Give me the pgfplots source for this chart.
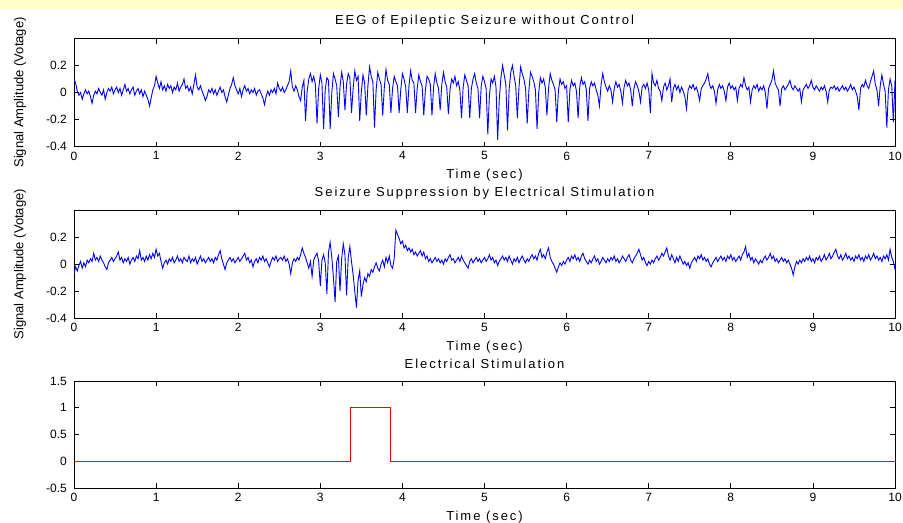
\documentclass[border=0pt]{standalone}
\usepackage{pgfplots}
\pgfplotsset{compat=1.18}
\usepackage{pgfplotstable}
\usepackage{fontspec}
\setmainfont{Liberation Sans}
\newfontfamily\widefont[LetterSpace=15]{Liberation Sans}
\definecolor{mblue}{RGB}{0,0,255}
\definecolor{mred}{RGB}{255,0,0}
\definecolor{strip}{RGB}{255,255,200}

\pgfplotstableread{
t v
0.00 0.10
0.02 0.07
0.04 0.01
0.06 -0.02
0.08 0.00
0.10 -0.05
0.12 -0.01
0.14 0.02
0.16 -0.01
0.18 0.01
0.20 -0.03
0.22 -0.08
0.24 -0.02
0.26 0.01
0.28 -0.01
0.30 0.03
0.32 0.00
0.34 -0.02
0.36 0.02
0.38 -0.05
0.40 0.00
0.42 0.03
0.44 0.01
0.46 0.04
0.48 -0.01
0.50 0.02
0.52 0.04
0.54 0.00
0.56 0.03
0.58 -0.02
0.60 0.02
0.62 0.06
0.64 0.01
0.66 0.03
0.68 -0.01
0.70 0.02
0.72 0.04
0.74 -0.02
0.76 0.01
0.78 0.03
0.80 -0.01
0.82 0.02
0.84 -0.03
0.86 0.01
0.88 -0.02
0.90 -0.05
0.92 -0.10
0.94 -0.04
0.96 0.02
0.98 0.05
1.00 0.12
1.02 0.07
1.04 0.03
1.06 0.08
1.08 0.02
1.10 0.05
1.12 0.01
1.14 0.06
1.16 0.03
1.18 0.05
1.20 0.00
1.22 0.04
1.24 0.02
1.26 0.07
1.28 0.01
1.30 0.04
1.32 0.06
1.34 0.10
1.36 0.03
1.38 0.05
1.40 0.01
1.42 0.04
1.44 -0.01
1.46 0.06
1.48 0.13
1.50 0.04
1.52 0.02
1.54 0.05
1.56 0.01
1.58 -0.02
1.60 -0.06
1.62 -0.03
1.64 0.02
1.66 0.00
1.68 0.03
1.70 -0.01
1.72 0.02
1.74 -0.02
1.76 0.01
1.78 0.04
1.80 0.00
1.82 0.02
1.84 -0.03
1.86 -0.07
1.88 -0.02
1.90 0.03
1.92 0.06
1.94 0.11
1.96 0.05
1.98 0.02
2.00 -0.01
2.02 0.03
2.04 -0.03
2.06 0.02
2.08 0.05
2.10 0.01
2.12 0.03
2.14 -0.01
2.16 0.02
2.18 0.00
2.20 0.03
2.22 -0.02
2.24 0.01
2.26 0.02
2.28 -0.01
2.30 -0.04
2.32 -0.09
2.34 -0.03
2.36 0.01
2.38 -0.02
2.40 0.02
2.42 0.00
2.44 0.03
2.46 -0.01
2.48 0.07
2.50 0.03
2.52 0.01
2.54 0.04
2.56 0.00
2.58 0.02
2.60 0.05
2.62 0.08
2.64 0.16
2.66 0.04
2.68 0.01
2.70 0.05
2.72 0.02
2.74 -0.03
2.76 -0.06
2.78 0.04
2.80 0.09
2.82 -0.21
2.84 0.01
2.86 0.10
2.88 0.14
2.90 0.08
2.92 0.12
2.94 0.06
2.96 -0.23
2.98 0.03
3.00 0.13
3.02 0.07
3.04 -0.27
3.06 0.02
3.08 0.11
3.10 0.09
3.12 -0.27
3.14 0.00
3.16 0.14
3.18 0.10
3.20 0.05
3.22 -0.18
3.24 0.04
3.26 0.15
3.28 0.08
3.30 -0.13
3.32 0.06
3.34 0.14
3.36 0.11
3.38 -0.15
3.40 0.03
3.42 0.16
3.44 0.09
3.46 0.12
3.48 -0.21
3.50 0.01
3.52 0.13
3.54 0.07
3.56 -0.17
3.58 0.05
3.60 0.19
3.62 0.12
3.64 0.08
3.66 -0.26
3.68 0.02
3.70 0.15
3.72 0.10
3.74 0.06
3.76 -0.17
3.78 0.04
3.80 0.17
3.82 0.09
3.84 0.06
3.86 -0.15
3.88 0.03
3.90 0.12
3.92 0.08
3.94 0.05
3.96 -0.15
3.98 0.02
4.00 0.14
4.02 0.10
4.04 0.04
4.06 -0.15
4.08 0.05
4.10 0.16
4.12 0.09
4.14 0.07
4.16 -0.15
4.18 0.03
4.20 0.13
4.22 0.08
4.24 0.05
4.26 -0.17
4.28 0.02
4.30 0.12
4.32 0.10
4.34 0.06
4.36 -0.17
4.38 0.04
4.40 0.14
4.42 0.07
4.44 0.03
4.46 -0.13
4.48 0.06
4.50 0.15
4.52 0.08
4.54 0.04
4.56 -0.16
4.58 0.02
4.60 0.10
4.62 0.07
4.64 0.12
4.66 0.05
4.68 0.08
4.70 0.02
4.72 -0.19
4.74 0.04
4.76 0.13
4.78 0.09
4.80 0.05
4.82 -0.19
4.84 0.03
4.86 0.10
4.88 0.14
4.90 0.07
4.92 0.03
4.94 -0.19
4.96 0.05
4.98 0.12
5.00 0.08
5.02 0.03
5.04 -0.31
5.06 -0.02
5.08 0.10
5.10 0.07
5.12 0.12
5.14 0.04
5.16 -0.35
5.18 -0.05
5.20 0.11
5.22 0.20
5.24 0.13
5.26 0.06
5.28 -0.28
5.30 0.02
5.32 0.15
5.34 0.20
5.36 0.12
5.38 0.05
5.40 -0.19
5.42 0.04
5.44 0.19
5.46 0.14
5.48 0.10
5.50 0.03
5.52 -0.23
5.54 0.01
5.56 0.15
5.58 0.12
5.60 0.08
5.62 0.02
5.64 -0.27
5.66 0.00
5.68 0.11
5.70 0.07
5.72 0.10
5.74 0.04
5.76 -0.17
5.78 0.03
5.80 0.14
5.82 0.09
5.84 0.06
5.86 0.02
5.88 -0.22
5.90 0.01
5.92 0.10
5.94 0.06
5.96 0.08
5.98 0.03
6.00 0.05
6.02 -0.22
6.04 0.02
6.06 0.09
6.08 0.05
6.10 0.07
6.12 0.01
6.14 -0.19
6.16 0.04
6.18 0.11
6.20 0.06
6.22 0.08
6.24 0.02
6.26 -0.21
6.28 0.03
6.30 0.08
6.32 0.05
6.34 0.07
6.36 0.02
6.38 -0.02
6.40 -0.10
6.42 0.06
6.44 0.14
6.46 0.08
6.48 0.04
6.50 0.01
6.52 0.05
6.54 0.02
6.56 -0.07
6.58 0.03
6.60 0.08
6.62 0.04
6.64 0.06
6.66 0.01
6.68 -0.08
6.70 0.04
6.72 0.09
6.74 0.05
6.76 0.07
6.78 0.02
6.80 -0.10
6.82 0.03
6.84 0.08
6.86 0.05
6.88 0.01
6.90 -0.07
6.92 0.04
6.94 0.06
6.96 0.03
6.98 0.07
7.00 0.02
7.02 -0.15
7.04 0.14
7.06 0.07
7.08 0.05
7.10 0.09
7.12 0.03
7.14 0.01
7.16 -0.06
7.18 0.04
7.20 0.07
7.22 0.02
7.24 0.05
7.26 0.10
7.28 -0.07
7.30 0.03
7.32 0.06
7.34 0.02
7.36 0.05
7.38 0.00
7.40 0.04
7.42 0.01
7.44 -0.03
7.46 -0.12
7.48 0.02
7.50 0.05
7.52 0.03
7.54 0.06
7.56 0.02
7.58 0.04
7.60 0.00
7.62 -0.06
7.64 0.03
7.66 0.05
7.68 0.07
7.70 0.10
7.72 0.14
7.74 0.06
7.76 0.03
7.78 0.05
7.80 0.01
7.82 -0.08
7.84 0.02
7.86 0.06
7.88 0.03
7.90 0.05
7.92 0.01
7.94 -0.06
7.96 0.04
7.98 0.07
8.00 0.03
8.02 0.05
8.04 0.02
8.06 0.04
8.08 -0.06
8.10 0.03
8.12 0.06
8.14 0.04
8.16 0.11
8.18 0.05
8.20 0.02
8.22 0.04
8.24 -0.07
8.26 0.02
8.28 0.05
8.30 0.03
8.32 0.06
8.34 0.01
8.36 0.04
8.38 0.02
8.40 0.05
8.42 0.00
8.44 -0.12
8.46 0.03
8.48 0.06
8.50 0.09
8.52 0.16
8.54 0.07
8.56 0.04
8.58 0.02
8.60 -0.10
8.62 0.03
8.64 0.05
8.66 0.02
8.68 0.04
8.70 0.06
8.72 0.09
8.74 0.04
8.76 0.02
8.78 0.05
8.80 0.03
8.82 0.01
8.84 0.03
8.86 -0.07
8.88 0.02
8.90 0.04
8.92 0.06
8.94 0.03
8.96 0.05
8.98 0.09
9.00 0.04
9.02 0.02
9.04 0.05
9.06 0.03
9.08 0.01
9.10 0.04
9.12 0.02
9.14 0.05
9.16 0.01
9.18 -0.07
9.20 0.02
9.22 0.04
9.24 0.03
9.26 0.05
9.28 0.02
9.30 0.04
9.32 0.01
9.34 0.03
9.36 0.05
9.38 0.02
9.40 0.04
9.42 0.01
9.44 0.03
9.46 0.06
9.48 0.02
9.50 0.04
9.52 0.01
9.54 -0.03
9.56 -0.13
9.58 0.03
9.60 0.06
9.62 0.04
9.64 0.09
9.66 0.05
9.68 0.03
9.70 0.08
9.72 0.12
9.74 0.16
9.76 0.06
9.78 0.02
9.80 -0.10
9.82 0.05
9.84 0.13
9.86 0.06
9.88 0.01
9.90 -0.26
9.92 0.02
9.94 0.10
9.96 0.05
9.98 -0.22
10.00 0.09
}\topdata

\pgfplotstableread{
t v
0.00 -0.07
0.02 -0.02
0.04 -0.05
0.06 -0.01
0.08 0.02
0.10 -0.03
0.12 0.01
0.14 -0.02
0.16 0.03
0.18 0.01
0.20 0.04
0.22 0.02
0.24 0.08
0.26 0.03
0.28 0.05
0.30 0.02
0.32 0.06
0.34 0.03
0.36 0.01
0.38 -0.02
0.40 -0.04
0.42 0.01
0.44 0.03
0.46 0.05
0.48 0.02
0.50 0.04
0.52 0.06
0.54 0.09
0.56 0.03
0.58 0.05
0.60 0.01
0.62 0.04
0.64 0.02
0.66 0.05
0.68 0.00
0.70 0.03
0.72 0.05
0.74 0.02
0.76 0.06
0.78 0.04
0.80 0.10
0.82 0.03
0.84 0.05
0.86 0.02
0.88 0.06
0.90 0.03
0.92 0.07
0.94 0.04
0.96 0.08
0.98 0.05
1.00 0.11
1.02 0.06
1.04 0.08
1.06 0.02
1.08 -0.03
1.10 0.01
1.12 0.03
1.14 0.00
1.16 0.04
1.18 0.02
1.20 0.05
1.22 0.01
1.24 0.03
1.26 0.06
1.28 0.02
1.30 0.04
1.32 0.01
1.34 0.05
1.36 0.03
1.38 0.02
1.40 0.06
1.42 0.01
1.44 0.04
1.46 0.02
1.48 0.05
1.50 0.00
1.52 0.03
1.54 0.06
1.56 0.02
1.58 0.04
1.60 0.01
1.62 0.03
1.64 0.05
1.66 0.02
1.68 0.04
1.70 0.01
1.72 0.05
1.74 0.03
1.76 0.07
1.78 0.10
1.80 0.04
1.82 0.00
1.84 -0.04
1.86 0.01
1.88 0.03
1.90 0.05
1.92 0.02
1.94 0.04
1.96 0.01
1.98 0.03
2.00 0.05
2.02 0.02
2.04 0.04
2.06 0.06
2.08 0.08
2.10 0.03
2.12 0.05
2.14 0.01
2.16 0.03
2.18 -0.02
2.20 0.02
2.22 0.04
2.24 0.01
2.26 0.05
2.28 0.03
2.30 0.06
2.32 0.02
2.34 0.04
2.36 0.01
2.38 -0.02
2.40 0.02
2.42 0.05
2.44 0.03
2.46 0.06
2.48 0.02
2.50 0.04
2.52 0.05
2.54 0.03
2.56 0.06
2.58 0.02
2.60 0.04
2.62 0.00
2.64 -0.07
2.66 0.01
2.68 0.04
2.70 0.02
2.72 0.05
2.74 0.03
2.76 0.07
2.78 0.12
2.80 0.08
2.82 0.05
2.84 0.01
2.86 -0.03
2.88 0.02
2.90 -0.09
2.92 0.03
2.94 0.06
2.96 0.08
2.98 0.02
3.00 -0.16
3.02 0.03
3.04 0.07
3.06 0.01
3.08 -0.22
3.10 0.09
3.12 0.16
3.14 0.05
3.16 -0.10
3.18 -0.28
3.20 0.02
3.22 0.06
3.24 -0.20
3.26 0.04
3.28 0.15
3.30 0.07
3.32 -0.23
3.34 0.05
3.36 0.13
3.38 0.02
3.40 -0.08
3.42 -0.20
3.44 -0.32
3.46 -0.12
3.48 -0.05
3.50 -0.24
3.52 -0.15
3.54 -0.10
3.56 -0.13
3.58 -0.07
3.60 -0.09
3.62 -0.04
3.64 -0.06
3.66 -0.02
3.68 0.01
3.70 -0.03
3.72 -0.05
3.74 0.00
3.76 0.03
3.78 -0.02
3.80 0.05
3.82 0.01
3.84 0.06
3.86 -0.01
3.88 -0.03
3.90 0.04
3.92 0.25
3.94 0.22
3.96 0.19
3.98 0.15
4.00 0.17
4.02 0.12
4.04 0.14
4.06 0.10
4.08 0.12
4.10 0.09
4.12 0.11
4.14 0.07
4.16 0.09
4.18 0.06
4.20 0.08
4.22 0.10
4.24 0.06
4.26 0.09
4.28 0.04
4.30 0.06
4.32 0.02
4.34 0.04
4.36 0.01
4.38 0.03
4.40 0.05
4.42 0.02
4.44 0.04
4.46 0.01
4.48 0.03
4.50 0.00
4.52 0.04
4.54 0.02
4.56 0.05
4.58 0.07
4.60 0.03
4.62 0.04
4.64 0.01
4.66 0.03
4.68 0.05
4.70 0.02
4.72 0.06
4.74 0.03
4.76 0.01
4.78 -0.01
4.80 -0.03
4.82 0.02
4.84 0.04
4.86 0.01
4.88 0.03
4.90 0.05
4.92 0.02
4.94 0.04
4.96 0.01
4.98 0.03
5.00 0.05
5.02 0.02
5.04 0.04
5.06 0.07
5.08 0.03
5.10 0.05
5.12 0.01
5.14 0.03
5.16 -0.01
5.18 0.02
5.20 0.04
5.22 0.06
5.24 0.03
5.26 0.05
5.28 0.02
5.30 0.06
5.32 0.03
5.34 0.00
5.36 0.04
5.38 0.02
5.40 0.05
5.42 0.01
5.44 0.04
5.46 0.06
5.48 0.03
5.50 0.01
5.52 0.04
5.54 0.02
5.56 0.05
5.58 0.07
5.60 0.04
5.62 0.06
5.64 0.03
5.66 0.08
5.68 0.11
5.70 0.05
5.72 0.07
5.74 0.04
5.76 0.09
5.78 0.12
5.80 0.05
5.82 0.02
5.84 0.00
5.86 -0.03
5.88 -0.06
5.90 -0.02
5.92 0.01
5.94 -0.01
5.96 0.02
5.98 0.00
6.00 0.03
6.02 0.05
6.04 0.02
6.06 0.06
6.08 0.04
6.10 0.07
6.12 0.03
6.14 0.05
6.16 0.02
6.18 0.06
6.20 0.08
6.22 0.04
6.24 0.02
6.26 0.00
6.28 0.03
6.30 0.01
6.32 0.04
6.34 0.06
6.36 0.02
6.38 0.04
6.40 0.00
6.42 0.02
6.44 0.05
6.46 0.03
6.48 0.01
6.50 0.04
6.52 0.02
6.54 0.05
6.56 0.03
6.58 0.06
6.60 0.02
6.62 0.04
6.64 0.01
6.66 0.03
6.68 0.06
6.70 0.04
6.72 0.02
6.74 0.05
6.76 0.07
6.78 0.03
6.80 0.01
6.82 0.04
6.84 0.06
6.86 0.08
6.88 0.11
6.90 0.07
6.92 0.03
6.94 0.05
6.96 0.01
6.98 -0.01
7.00 0.02
7.02 0.00
7.04 0.03
7.06 0.01
7.08 0.04
7.10 0.06
7.12 0.03
7.14 0.05
7.16 0.08
7.18 0.06
7.20 0.09
7.22 0.12
7.24 0.06
7.26 0.03
7.28 0.07
7.30 0.04
7.32 0.01
7.34 0.05
7.36 0.02
7.38 0.06
7.40 0.03
7.42 0.00
7.44 0.02
7.46 -0.01
7.48 0.01
7.50 -0.03
7.52 0.01
7.54 0.03
7.56 0.05
7.58 0.02
7.60 0.06
7.62 0.04
7.64 0.07
7.66 0.03
7.68 0.05
7.70 0.02
7.72 0.04
7.74 0.00
7.76 -0.02
7.78 0.01
7.80 0.03
7.82 0.05
7.84 0.02
7.86 0.04
7.88 0.06
7.90 0.03
7.92 0.05
7.94 0.02
7.96 0.06
7.98 0.04
8.00 0.07
8.02 0.03
8.04 0.05
8.06 0.02
8.08 0.04
8.10 0.06
8.12 0.03
8.14 0.07
8.16 0.09
8.18 0.13
8.20 0.05
8.22 0.08
8.24 0.03
8.26 0.05
8.28 0.01
8.30 0.04
8.32 0.02
8.34 0.00
8.36 0.03
8.38 0.01
8.40 0.04
8.42 0.06
8.44 0.03
8.46 0.05
8.48 0.08
8.50 0.04
8.52 0.06
8.54 0.02
8.56 0.04
8.58 0.01
8.60 0.03
8.62 0.05
8.64 0.02
8.66 0.04
8.68 0.01
8.70 0.03
8.72 0.00
8.74 -0.03
8.76 -0.08
8.78 -0.02
8.80 0.02
8.82 0.00
8.84 0.03
8.86 0.01
8.88 0.04
8.90 0.02
8.92 0.05
8.94 0.03
8.96 0.06
8.98 0.02
9.00 0.04
9.02 0.01
9.04 0.05
9.06 0.03
9.08 0.06
9.10 0.02
9.12 0.04
9.14 0.07
9.16 0.03
9.18 0.05
9.20 0.08
9.22 0.04
9.24 0.06
9.26 0.09
9.28 0.11
9.30 0.06
9.32 0.04
9.34 0.07
9.36 0.03
9.38 0.05
9.40 0.08
9.42 0.04
9.44 0.06
9.46 0.03
9.48 0.05
9.50 0.02
9.52 0.06
9.54 0.04
9.56 0.07
9.58 0.03
9.60 0.05
9.62 0.02
9.64 0.06
9.66 0.04
9.68 0.07
9.70 0.03
9.72 0.05
9.74 0.08
9.76 0.04
9.78 0.06
9.80 0.03
9.82 0.05
9.84 0.02
9.86 0.06
9.88 0.04
9.90 0.07
9.92 0.03
9.94 0.11
9.96 0.05
9.98 0.02
10.00 -0.04
}\middata

\pgfplotstableread{
t v
0 0
3.37 0
3.37 1
3.85 1
3.85 0
10 0
}\stimdata

\pgfplotsset{
  mat/.style={
    scale only axis, width=821bp, xmin=0, xmax=10,
    xtick={0,1,2,3,4,5,6,7,8,9,10},
    xticklabels={0,1,2,3,4,5,6,7,8,9,10},
    tick align=inside, tick pos=both,
    xticklabel pos=lower, yticklabel pos=left,
    major tick length=5bp,
    axis line style={line width=0.7bp, black},
    every tick/.style={black, line width=0.7bp},
    ticklabel style={font=\fontsize{12bp}{14bp}\selectfont},
    xticklabel style={inner sep=0pt, anchor=north, yshift=-5bp},
    yticklabel style={inner sep=0pt, anchor=east, xshift=-7bp},
    title style={at={([yshift=11bp]axis description cs:0.5,1)}, anchor=center,
      font=\widefont\fontsize{13bp}{15bp}\selectfont},
    xlabel style={at={([yshift=-29bp]axis description cs:0.5,0)}, anchor=center,
      font=\widefont\fontsize{13bp}{15bp}\selectfont},
    ylabel style={at={([xshift=-54bp]axis description cs:0,0.5)}, anchor=center,
      font=\fontsize{13bp}{15bp}\selectfont},
  }
}

\begin{document}
\begin{tikzpicture}[x=1bp,y=1bp]
\useasboundingbox (0,0) rectangle (903,-523);
\fill[white] (0,0) rectangle (903,-523);

\begin{axis}[mat, at={(74bp,-146.5bp)}, anchor=south west, height=108bp,
  ymin=-0.4, ymax=0.4, ytick={-0.4,-0.2,0,0.2}, yticklabels={-0.4,-0.2,0,0.2},
  title={EEG of Epileptic Seizure without Control},
  xlabel={Time (sec)}, ylabel={Signal Amplitude (Votage)}]
\addplot[mblue, line width=0.9bp] table[x=t, y=v] {\topdata};
\end{axis}

\begin{axis}[mat, at={(74bp,-318.3bp)}, anchor=south west, height=108.3bp,
  ymin=-0.4, ymax=0.4, ytick={-0.4,-0.2,0,0.2}, yticklabels={-0.4,-0.2,0,0.2},
  title={Seizure Suppression by Electrical Stimulation},
  xlabel={Time (sec)}, ylabel={Signal Amplitude (Votage)}]
\addplot[mblue, line width=0.9bp] table[x=t, y=v] {\middata};
\end{axis}

\begin{axis}[mat, at={(74bp,-488.3bp)}, anchor=south west, height=107.3bp,
  ymin=-0.5, ymax=1.5, ytick={-0.5,0,0.5,1,1.5}, yticklabels={-0.5,0,0.5,1,1.5},
  title={Electrical Stimulation},
  xlabel={Time (sec)}]
\addplot[mred, line width=0.8bp] table[x=t, y=v] {\stimdata};
\end{axis}

\fill[strip] (0,0) rectangle (903,-9);
\end{tikzpicture}
\end{document}
